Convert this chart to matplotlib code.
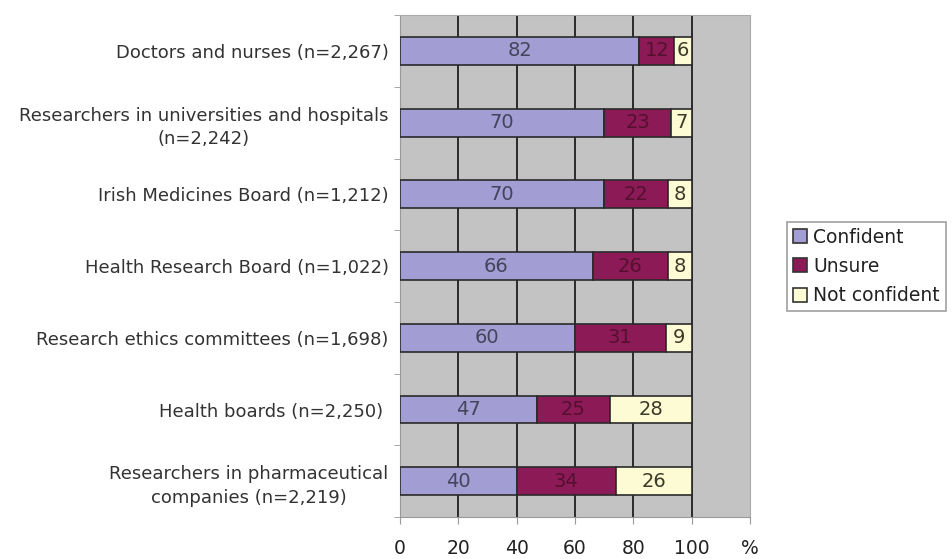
import matplotlib.pyplot as plt
import numpy as np

# groups, top to bottom as in the report
groups = [
    "Doctors and nurses (n=2,267)",
    "Researchers in universities and hospitals\n(n=2,242)",
    "Irish Medicines Board (n=1,212)",
    "Health Research Board (n=1,022)",
    "Research ethics committees (n=1,698)",
    "Health boards (n=2,250) ",
    "Researchers in pharmaceutical\ncompanies (n=2,219)",
]
confident = [82, 70, 70, 66, 60, 47, 40]
unsure = [12, 23, 22, 26, 31, 25, 34]
not_confident = [6, 7, 8, 8, 9, 28, 26]

series_names = ["Confident", "Unsure", "Not confident"]
x_ticks = [0, 20, 40, 60, 80, 100, 120]
x_ticklabels = ["0", "20", "40", "60", "80", "100", "%"]

colours = ["#a29dd3", "#8b1a57", "#fdfbd3"]
text_cols = ["#44445c", "#55102f", "#3a3a2a"]

fig = plt.figure(figsize=(9.52, 5.59), dpi=100)
ax = fig.add_axes([0.420, 0.075, 0.368, 0.898])
ax.set_facecolor("#c3c3c3")

y = np.arange(len(groups))
left = np.zeros(len(groups))
for vals, name, c, tc in zip([confident, unsure, not_confident], series_names, colours, text_cols):
    bars = ax.barh(y, vals, left=left, height=0.39, color=c, edgecolor="#2a2a2a",
                   linewidth=1.2, label=name, zorder=3)
    ax.bar_label(bars, labels=[str(v) for v in vals], label_type="center",
                 fontsize=14, color=tc)
    left += np.array(vals)

# vertical gridlines stop at 100
for gx in x_ticks[1:-1]:
    ax.axvline(gx, color="#2a2a2a", lw=1.4, zorder=1)

ax.set_xlim(0, 120)
ax.set_ylim(len(groups) - 0.5, -0.5)
ax.set_xticks(x_ticks)
ax.set_xticklabels(x_ticklabels, fontsize=13.5, color="#222222")
ax.tick_params(axis="x", length=5, color="#999999", pad=11)

ax.set_yticks(y)
ax.set_yticklabels(groups, fontsize=13, color="#333333", multialignment="center",
                   linespacing=1.4)
ax.set_yticks(np.arange(len(groups) + 1) - 0.5, minor=True)
ax.tick_params(axis="y", which="major", length=0, pad=8)
ax.tick_params(axis="y", which="minor", length=4, color="#999999")

for s in ["top", "right"]:
    ax.spines[s].set_color("#aaaaaa")
ax.spines["left"].set_color("#999999")
ax.spines["bottom"].set_color("#999999")

leg = fig.legend(loc="upper left", bbox_to_anchor=(0.8267, 0.603), fontsize=13.5,
                 frameon=True, fancybox=False, handlelength=0.75, handleheight=0.75,
                 handletextpad=0.35, borderpad=0.3, labelspacing=0.55,
                 borderaxespad=0, edgecolor="#888888")
leg.get_frame().set_linewidth(1.2)
for h in leg.legend_handles:
    h.set_edgecolor("#333333")
for t in leg.get_texts():
    t.set_color("#222222")

fig.savefig("out.png", dpi=100)
